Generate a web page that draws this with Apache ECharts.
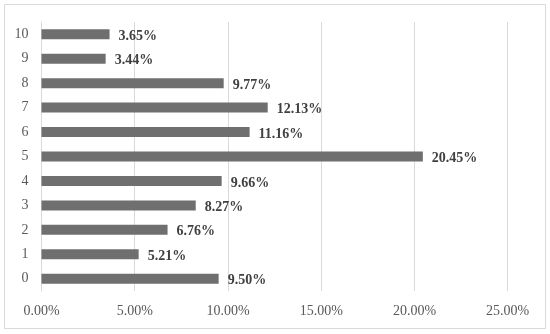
<!DOCTYPE html>
<html><head><meta charset="utf-8">
<script src="https://cdn.jsdelivr.net/npm/echarts@6/dist/echarts.min.js"></script>
<style>html,body{margin:0;padding:0;background:#fff}#c{width:550px;height:334px}</style>
</head><body><div id="c"></div>
<script>
const categories = ['0','1','2','3','4','5','6','7','8','9','10'];
const values = [9.50, 5.21, 6.76, 8.27, 9.66, 20.45, 11.16, 12.13, 9.77, 3.44, 3.65];
const xTicks = [0, 5, 10, 15, 20, 25];

const chart = echarts.init(document.getElementById('c'));
const font = '"Liberation Serif", "DejaVu Serif", serif';
chart.setOption({
  animation: false,
  graphic: [{type:'rect', shape:{x:4.5,y:4.5,width:541,height:324}, style:{fill:'none', stroke:'#d9d9d9', lineWidth:1}}],
  grid: {left: 41.5, right: 42.3, top: 22, bottom: 43, containLabel: false},
  xAxis: {
    type: 'value', min: xTicks[0], max: xTicks[xTicks.length-1], interval: 5,
    axisLine: {show:false}, axisTick: {show:false},
    splitLine: {lineStyle: {color:'#d9d9d9', width:1}},
    axisLabel: {fontFamily: font, fontSize: 14, color:'#595959', margin: 13,
      formatter: v => v.toFixed(2) + '%'}
  },
  yAxis: {
    type: 'category', data: categories,
    axisLine: {show:true, lineStyle:{color:'#d9d9d9'}}, axisTick: {show:false},
    axisLabel: {fontFamily: font, fontSize: 14, color:'#595959', margin: 13}
  },
  series: [{
    type: 'bar', data: values, barWidth: 10,
    itemStyle: {color: '#6f6f6f'},
    label: {show: true, position: 'right', distance: 9, offset:[0,2],
      fontFamily: font, fontSize: 14, fontWeight: 'bold', color: '#404040',
      formatter: p => p.value.toFixed(2) + '%'}
  }]
});
</script></body></html>
